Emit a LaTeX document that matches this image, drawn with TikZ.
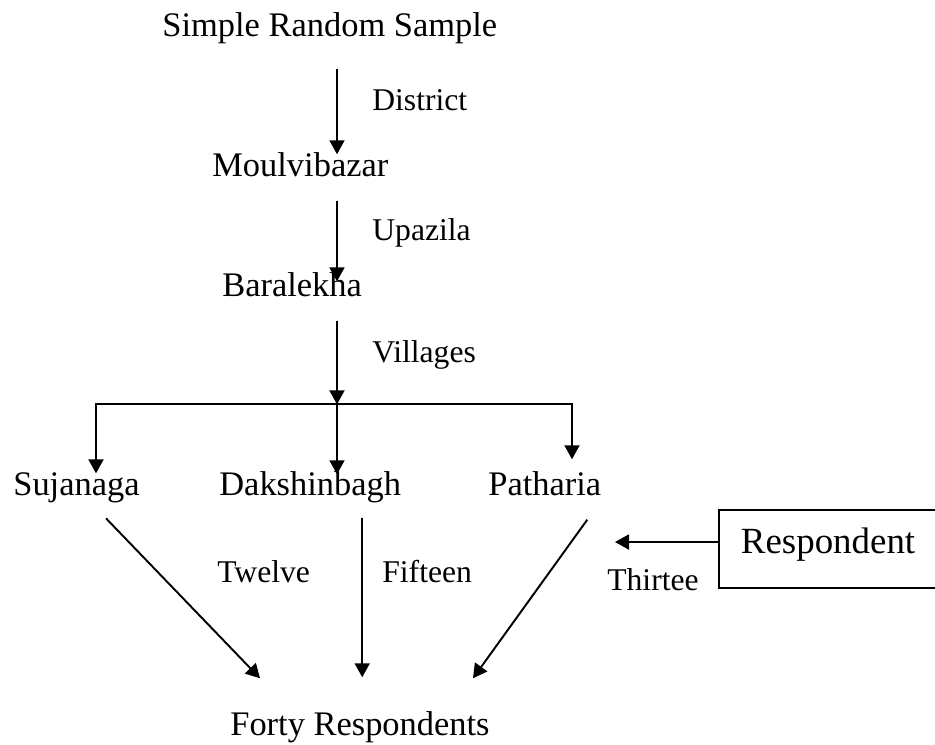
\documentclass[tikz,border=0pt]{standalone}
\usepackage{fontspec}
\setmainfont{Liberation Serif}
\usetikzlibrary{arrows.meta}

\begin{document}
\begin{tikzpicture}[stage/.style={anchor=base west, inner sep=0pt, font=\fontsize{19.6}{23}\selectfont}, tag/.style={anchor=base west, inner sep=0pt, font=\fontsize{18}{21}\selectfont}, flow/.style={->, >={Triangle[length=0.28cm, width=0.30cm]}, line width=1.1pt}]
	\useasboundingbox (0, 0) rectangle (18.7, -14.88);
	\coordinate (trunk)at(6.74, 0);
	\coordinate (split)at(6.74, -8.086);
	\coordinate (lft)at(1.92, -8.086);
	\coordinate (rgt)at(11.44, -8.086);
	\coordinate (pointer)at(12.30, -10.84);
	\node[stage] (srs)at(3.24, -0.72) {Simple Random Sample};
	\node[stage] (moulvi)at(4.24, -3.52) {Moulvibazar};
	\node[stage] (baralekha)at(4.44, -5.92) {Baralekha};
	\node[stage] (suja)at(0.26, -9.90) {Sujanaga};
	\node[stage] (dak)at(4.38, -9.90) {Dakshinbagh};
	\node[stage] (path)at(9.76, -9.90) {Patharia};
	\node[stage] (forty)at(4.60, -14.70) {Forty Respondents};
	\node[draw, line width=1.1pt, anchor=base west, inner xsep=0.44cm, inner ysep=0pt, text width=3.9cm, align=left, text height=0.86cm, text depth=0.70cm, font=\fontsize{21}{25}\selectfont] (resp)at(14.36, -11.06) {Respondent};
	\node[tag] (district)at(7.44, -2.20) {District};
	\node[tag] (upazila)at(7.44, -4.80) {Upazila};
	\node[tag] (villages)at(7.44, -7.24) {Villages};
	\node[tag] (twelve)at(4.34, -11.64) {Twelve};
	\node[tag] (fifteen)at(7.64, -11.64) {Fifteen};
	\node[tag] (thirtee)at(12.14, -11.80) {Thirtee};
	\draw[flow, shorten <=0.51cm, shorten >=-0.05cm] (srs.south -| trunk) -- (moulvi.north -| trunk);
	\draw[flow, shorten <=0.48cm, shorten >=-0.19cm] (moulvi.south -| trunk) -- (baralekha.north -| trunk);
	\draw[flow, shorten <=0.48cm] (baralekha.south -| trunk) -- (split);
	\draw[flow, <->, shorten <=-0.03cm, shorten >=0.23cm] (lft |- suja.north) -- (lft) -- (rgt) -- (rgt |- path.north);
	\draw[flow, shorten >=-0.07cm] (split) -- (split |- dak.north);
	\draw[flow] ([xshift=0.59cm, yshift=-0.31cm]suja.south) -- ([xshift=-2.00cm, yshift=0.65cm]forty.north);
	\draw[flow, shorten >=0.67cm] ([xshift=1.04cm, yshift=-0.31cm]dak.south) -- ([xshift=1.04cm]dak.south |- forty.north);
	\draw[flow] ([xshift=0.85cm, yshift=-0.48cm]path.south) -- ([xshift=2.26cm, yshift=0.65cm]forty.north);
	\draw[flow] ([yshift=0.14cm]resp.west) -- (pointer);
\end{tikzpicture}
\end{document}
